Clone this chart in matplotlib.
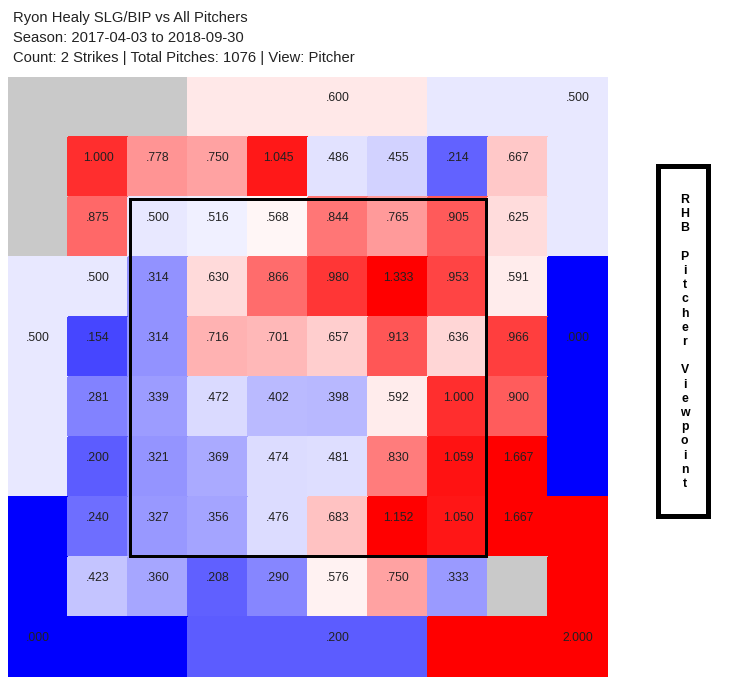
import numpy as np
import matplotlib
matplotlib.use('Agg')
import matplotlib.pyplot as plt
from matplotlib import patches, colors

plt.rcParams['font.family'] = ['Liberation Sans', 'DejaVu Sans']

# chart text
title_lines = ['Ryon Healy SLG/BIP vs All Pitchers',
               'Season: 2017-04-03 to 2018-09-30',
               'Count: 2 Strikes | Total Pitches: 1076 | View: Pitcher']
side_label = 'RHB Pitcher Viewpoint'

# SLG/BIP for the 8x8 inner grid (pitcher view), nan = no balls in play
row1 = [1.000, .778, .750, 1.045, .486, .455, .214, .667]
row2 = [.875, .500, .516, .568, .844, .765, .905, .625]
row3 = [.500, .314, .630, .866, .980, 1.333, .953, .591]
row4 = [.154, .314, .716, .701, .657, .913, .636, .966]
row5 = [.281, .339, .472, .402, .398, .592, 1.000, .900]
row6 = [.200, .321, .369, .474, .481, .830, 1.059, 1.667]
row7 = [.240, .327, .356, .476, .683, 1.152, 1.050, 1.667]
row8 = [.423, .360, .208, .290, .576, .750, .333, np.nan]

# outer zones around the grid
zone_names = ['top-left', 'top', 'top-right', 'left', 'right',
              'bottom-left', 'bottom', 'bottom-right']
zone_vals = [np.nan, .600, .500, .500, .000, .000, .200, 2.000]


def zone_of(r, c):
    # which outer zone a cell of the 10x10 grid belongs to (-1 = inner)
    if r == 0:
        return 0 if c <= 2 else (1 if c <= 6 else 2)
    if r == 9:
        return 5 if c <= 2 else (6 if c <= 6 else 7)
    if c == 0:
        return 0 if r <= 2 else (3 if r <= 6 else 5)
    if c == 9:
        return 2 if r <= 2 else (4 if r <= 6 else 7)
    return -1


# cell where each zone label sits
zone_label_cell = {1: (0, 5), 2: (0, 9), 3: (4, 0), 4: (4, 9),
                   5: (9, 0), 6: (9, 5), 7: (9, 9)}


def fmt(v):
    s = '%.3f' % v
    if s.startswith('0'):
        s = s[1:]
    return s


inner = np.array([row1, row2, row3, row4, row5, row6, row7, row8])
grid = np.full((10, 10), np.nan)
for r in range(10):
    for c in range(10):
        z = zone_of(r, c)
        if z >= 0:
            grid[r, c] = zone_vals[z]
        else:
            grid[r, c] = inner[r - 1, c - 1]

W, H = 729, 688
fig = plt.figure(figsize=(W / 100, H / 100), dpi=100)

# page axes in pixel coords for title and side box
page = fig.add_axes([0, 0, 1, 1])
page.set_xlim(0, W)
page.set_ylim(H, 0)
page.axis('off')

for i, line in enumerate(title_lines):
    page.text(13, 22 + i * 20, line, fontsize=10.6, color='#222222',
              ha='left', va='baseline')

page.add_patch(patches.Rectangle((658.5, 165.5), 50, 350, fill=False,
                                 edgecolor='black', lw=3.6))
# one letter per line, spaces leave an empty line
for i, ch in enumerate(side_label):
    if ch == ' ':
        continue
    page.text(684.5, 203 + i * 14.2, ch, fontsize=8.8, fontweight='bold',
              ha='center', va='baseline', color='black')

# heatmap axes
ax = fig.add_axes([8 / W, 11 / H, 600 / W, 600 / H])
cmap = colors.LinearSegmentedColormap.from_list(
    'bwr_slg', [(0, 0, 1), (1, 1, 1), (1, 0, 0)])
cmap.set_bad('#c9c9c9')
norm = colors.TwoSlopeNorm(vmin=0.0, vcenter=0.55, vmax=1.1)
ax.pcolormesh(np.arange(11), np.arange(11), np.ma.masked_invalid(grid),
              cmap=cmap, norm=norm, edgecolors='face', linewidth=0.3)
ax.set_xlim(0, 10)
ax.set_ylim(10, 0)
ax.axis('off')

# inner cell labels
for r in range(8):
    for c in range(8):
        v = inner[r, c]
        if np.isnan(v):
            continue
        ax.text(c + 1.5, r + 1 + 0.345, fmt(v), ha='center', va='center',
                fontsize=8.8, color='#222222')

# outer zone labels
for z, (r, c) in zone_label_cell.items():
    ax.text(c + 0.5, r + 0.345, fmt(zone_vals[z]), ha='center', va='center',
            fontsize=8.8, color='#222222')

# strike zone
ax.add_patch(patches.Rectangle((2.025, 2.025), 5.95, 5.95, fill=False,
                               edgecolor='black', lw=2.16))

fig.savefig('out.png', dpi=100)
